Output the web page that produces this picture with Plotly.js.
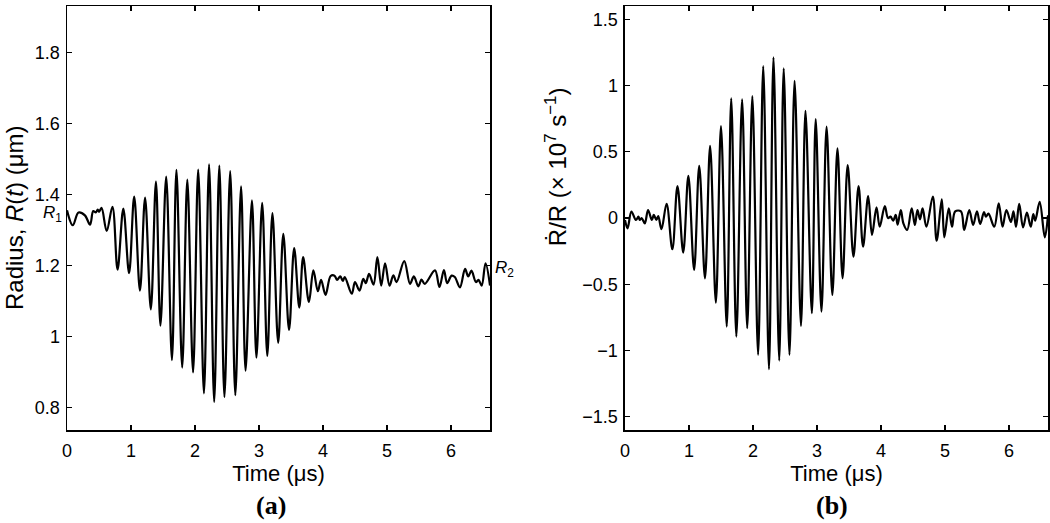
<!DOCTYPE html>
<html>
<head>
<meta charset="utf-8">
<script src="https://cdn.plot.ly/plotly-3.0.1.min.js"></script>
<style>
  html, body { margin: 0; padding: 0; background: #fff; }
  #chart { width: 1050px; height: 523px; }
</style>
</head>
<body>
<div id="chart"></div>
<script>
// panel (a): bubble radius, extrema
const timeA = [0.00, 0.09, 0.18, 0.28, 0.36, 0.41, 0.45, 0.48, 0.50, 0.54, 0.62, 0.71, 0.79, 0.88, 0.97,
    1.05, 1.14, 1.22, 1.31, 1.39, 1.46, 1.55, 1.64, 1.71, 1.80, 1.88, 1.97, 2.05, 2.14, 2.22, 2.30, 2.38,
    2.46, 2.55, 2.63, 2.72, 2.79, 2.89, 2.96, 3.05, 3.13, 3.21, 3.30, 3.38, 3.47, 3.55, 3.63, 3.69, 3.78,
    3.85, 3.92, 3.97, 4.04, 4.12, 4.18, 4.22, 4.27, 4.31, 4.34, 4.45, 4.50, 4.57, 4.63, 4.67, 4.72, 4.79,
    4.85, 4.91, 4.97, 5.04, 5.10, 5.15, 5.27, 5.36, 5.42, 5.49, 5.54, 5.59, 5.75, 5.82, 5.89, 5.94, 6.01,
    6.06, 6.14, 6.22, 6.27, 6.32, 6.39, 6.43, 6.48, 6.54, 6.61];
const radiusA = [1.356, 1.314, 1.350, 1.342, 1.316, 1.354, 1.350, 1.358, 1.352, 1.363, 1.298, 1.366, 1.189, 1.361, 1.179,
    1.395, 1.130, 1.392, 1.077, 1.437, 1.031, 1.451, 0.934, 1.470, 0.913, 1.443, 0.899, 1.471, 0.840, 1.486, 0.816, 1.482,
    0.830, 1.467, 0.835, 1.424, 0.904, 1.384, 0.941, 1.377, 0.946, 1.348, 0.983, 1.290, 1.019, 1.250, 1.082, 1.224, 1.098,
    1.187, 1.128, 1.160, 1.118, 1.171, 1.172, 1.160, 1.170, 1.157, 1.168, 1.121, 1.154, 1.130, 1.163, 1.151, 1.177, 1.147,
    1.224, 1.144, 1.207, 1.144, 1.173, 1.154, 1.213, 1.149, 1.170, 1.142, 1.161, 1.149, 1.187, 1.140, 1.188, 1.151, 1.172,
    1.168, 1.139, 1.191, 1.170, 1.186, 1.154, 1.160, 1.144, 1.207, 1.144];

// panel (b): normalised wall velocity
const timeB = [0.00, 0.04, 0.10, 0.17, 0.21, 0.23, 0.26, 0.31, 0.36, 0.42, 0.45, 0.49, 0.52, 0.57, 0.65, 0.74, 0.82,
    0.91, 0.99, 1.08, 1.16, 1.25, 1.33, 1.42, 1.50, 1.59, 1.66, 1.74, 1.83, 1.91, 1.99, 2.08, 2.16, 2.25, 2.32, 2.41,
    2.48, 2.57, 2.65, 2.75, 2.82, 2.92, 2.98, 3.07, 3.15, 3.24, 3.32, 3.40, 3.48, 3.57, 3.65, 3.72, 3.80, 3.86, 3.93,
    3.98, 4.06, 4.11, 4.15, 4.19, 4.23, 4.26, 4.31, 4.35, 4.41, 4.48, 4.53, 4.57, 4.61, 4.65, 4.71, 4.81, 4.87, 4.95,
    4.99, 5.06, 5.11, 5.16, 5.25, 5.30, 5.38, 5.44, 5.50, 5.55, 5.61, 5.64, 5.68, 5.77, 5.84, 5.90, 5.96, 6.03, 6.07,
    6.11, 6.16, 6.22, 6.28, 6.34, 6.38, 6.41, 6.48, 6.56, 6.61];
const rateB = [-0.015, -0.078, 0.048, -0.015, 0.010, -0.015, 0.000, -0.040, 0.060, -0.015, 0.023, -0.015, 0.015, -0.085, 0.106, -0.236, 0.241,
    -0.261, 0.319, -0.392, 0.394, -0.455, 0.545, -0.639, 0.694, -0.820, 0.903, -0.895, 0.895, -0.832, 0.920, -1.033, 1.146, -1.141, 1.212, -1.076,
    1.129, -1.033, 1.035, -0.814, 0.809, -0.719, 0.747, -0.706, 0.689, -0.581, 0.525, -0.455, 0.400, -0.292, 0.241, -0.216, 0.166, -0.128, 0.080,
    -0.066, 0.090, 0.000, 0.010, -0.020, 0.023, -0.050, 0.060, -0.040, -0.090, 0.073, -0.053, 0.060, -0.010, 0.073, -0.066, 0.161, -0.171, 0.141,
    -0.146, 0.073, -0.066, 0.050, 0.050, -0.090, 0.060, -0.053, 0.050, -0.045, 0.045, 0.010, 0.033, -0.066, 0.111, -0.066, 0.060, -0.030, 0.050,
    -0.066, 0.106, -0.071, 0.040, -0.066, 0.030, -0.020, 0.121, -0.146, 0.020];

const xTicks = [0, 1, 2, 3, 4, 5, 6];
const yTicksA = [0.8, 1, 1.2, 1.4, 1.6, 1.8];
const yTickTextA = ['0.8', '1', '1.2', '1.4', '1.6', '1.8'];
const yTicksB = [-1.5, -1, -0.5, 0, 0.5, 1, 1.5];
const yTickTextB = ['\u22121.5', '\u22121', '\u22120.5', '0', '0.5', '1', '1.5'];

const FONT = 'Liberation Sans, Arial, sans-serif';
const SERIF = 'Liberation Serif, Times New Roman, serif';

let traceA = {
    x: timeA, y: radiusA, xaxis: 'x', yaxis: 'y',
    type: 'scatter', mode: 'lines',
    line: { color: '#000', width: 2.2, shape: 'spline', smoothing: 1 },
    hoverinfo: 'skip'
};
let traceB = {
    x: timeB, y: rateB, xaxis: 'x2', yaxis: 'y2',
    type: 'scatter', mode: 'lines',
    line: { color: '#000', width: 2.2, shape: 'spline', smoothing: 1 },
    hoverinfo: 'skip'
};

function xAxis(domain, anchor) {
    return {
        domain: domain, anchor: anchor,
        range: [0, 6.61],
        tickmode: 'array', tickvals: xTicks,
        ticks: 'inside', ticklen: 5, tickwidth: 1.3, tickcolor: '#000',
        showline: true, mirror: 'ticks', linecolor: '#000', linewidth: 1.5,
        showgrid: false, zeroline: false,
        ticklabelstandoff: 4,
        tickfont: { family: FONT, size: 18, color: '#000' },
        title: { text: 'Time (\u03bcs)', font: { family: FONT, size: 22, color: '#000' }, standoff: 5 }
    };
}
function yAxis(range, vals, text, anchor) {
    return {
        anchor: anchor, domain: [0, 1],
        range: range,
        tickmode: 'array', tickvals: vals, ticktext: text,
        ticks: 'inside', ticklen: 5, tickwidth: 1.3, tickcolor: '#000',
        showline: true, mirror: 'ticks', linecolor: '#000', linewidth: 1.5,
        showgrid: false, zeroline: false,
        ticklabelstandoff: 2,
        tickfont: { family: FONT, size: 18, color: '#000' }
    };
}

let layout = {
    width: 1050, height: 523,
    margin: { l: 67, r: 2, t: 6, b: 93 },
    paper_bgcolor: '#fff', plot_bgcolor: '#fff',
    showlegend: false,
    xaxis: xAxis([0, 0.4312], 'y'),
    yaxis: yAxis([0.737, 1.932], yTicksA, yTickTextA, 'x'),
    xaxis2: xAxis([0.5688, 1], 'y2'),
    yaxis2: yAxis([-1.6, 1.6], yTicksB, yTickTextB, 'x2'),
    annotations: [
        { xref: 'paper', yref: 'paper', x: -0.054, y: 0.5, xanchor: 'center', yanchor: 'middle',
          textangle: -90, showarrow: false,
          text: 'Radius, <i>R</i>(<i>t</i>) (\u03bcm)', font: { family: FONT, size: 24, color: '#000' } },
        { xref: 'paper', yref: 'paper', x: 0.4985, y: 0.62, xanchor: 'center', yanchor: 'middle',
          textangle: -90, showarrow: false,
          text: '\u1E58/R (\u00d7 10<sup>7</sup> s<sup>\u22121</sup>)', font: { family: FONT, size: 24, color: '#000' } },
        { xref: 'x', yref: 'y', x: 0, y: 1.345, xanchor: 'right', xshift: -3, showarrow: false,
          text: '<i>R</i><sub>1</sub>', font: { family: FONT, size: 17, color: '#000' } },
        { xref: 'x', yref: 'y', x: 6.61, y: 1.192, xanchor: 'left', xshift: 3, showarrow: false,
          text: '<i>R</i><sub>2</sub>', font: { family: FONT, size: 17, color: '#000' } },
        { xref: 'paper', yref: 'paper', x: 0.208, y: -0.177, xanchor: 'center', yanchor: 'middle', showarrow: false,
          text: '<b>(a)</b>', font: { family: SERIF, size: 26, color: '#000' } },
        { xref: 'paper', yref: 'paper', x: 0.78, y: -0.177, xanchor: 'center', yanchor: 'middle', showarrow: false,
          text: '<b>(b)</b>', font: { family: SERIF, size: 26, color: '#000' } }
    ]
};

Plotly.newPlot('chart', [traceA, traceB], layout, { staticPlot: true });
</script>
</body>
</html>
